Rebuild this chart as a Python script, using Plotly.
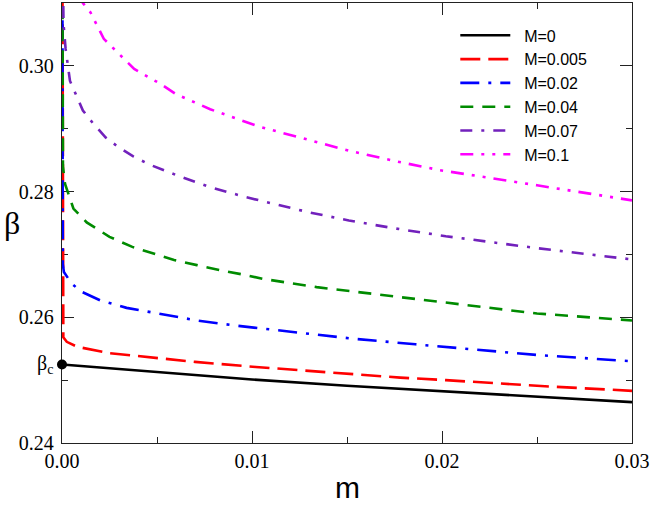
import plotly.graph_objects as go

# ---------------- data ----------------
labels = ["M=0", "M=0.005", "M=0.02", "M=0.04", "M=0.07", "M=0.1"]

m_M0 = [0.0, 0.005, 0.01, 0.015, 0.02, 0.025, 0.03]
b_M0 = [0.2525, 0.2513, 0.2501, 0.2491, 0.2482, 0.2473, 0.2465]

m_M0005 = [0.00002, 0.00004, 0.00007, 0.00025, 0.0008, 0.0025, 0.0045, 0.007,
           0.0102, 0.0143, 0.0178, 0.0202, 0.025, 0.03]
b_M0005 = [0.32, 0.2585, 0.2568, 0.2561, 0.2553, 0.2543, 0.2537, 0.2529,
           0.2521, 0.2512, 0.2504, 0.2500, 0.2491, 0.2483]

m_M002 = [0.00002, 0.00004, 0.0001, 0.0005, 0.001, 0.002, 0.0034, 0.005, 0.0071,
          0.0091, 0.0125, 0.0153, 0.0186, 0.0208, 0.025, 0.03]
b_M002 = [0.32, 0.2685, 0.2672, 0.2654, 0.2641, 0.2627, 0.2615, 0.2606, 0.2595,
          0.2587, 0.2576, 0.2566, 0.2557, 0.2551, 0.2540, 0.2530]

m_M004 = [0.00002, 0.00005, 0.00016, 0.0006, 0.0013, 0.0025, 0.0037, 0.0048, 0.0059,
          0.0071, 0.0083, 0.0097, 0.0106, 0.0134, 0.0169, 0.0200, 0.025, 0.03]
b_M004 = [0.32, 0.2840, 0.2812, 0.2773, 0.2751, 0.2728, 0.2712, 0.2701, 0.2691,
          0.2683, 0.2675, 0.2667, 0.2661, 0.2648, 0.2635, 0.2624, 0.2606, 0.2595]

m_M007 = [0.00002, 0.00008, 0.00019, 0.00042, 0.0011, 0.00165, 0.0023, 0.003, 0.00375,
          0.0046, 0.0062, 0.0078, 0.0097, 0.013, 0.0151, 0.0174, 0.0202, 0.025, 0.03]
b_M007 = [0.32, 0.3067, 0.3027, 0.2976, 0.2929, 0.2908, 0.2886, 0.2870, 0.2856,
          0.2843, 0.2824, 0.2807, 0.2791, 0.2767, 0.2754, 0.2742, 0.2729, 0.2710, 0.2692]

m_M01 = [0.0009, 0.0011, 0.0015, 0.0022, 0.0038, 0.0052, 0.006, 0.0078, 0.0103,
         0.0127, 0.0151, 0.0176, 0.0199, 0.025, 0.03]
b_M01 = [0.3115, 0.3100, 0.3085, 0.3043, 0.2995, 0.2971, 0.2955, 0.2931, 0.2904,
         0.2884, 0.2865, 0.2848, 0.2834, 0.2810, 0.2786]

beta_c = 0.2525
x_ticks = [0.0, 0.01, 0.02, 0.03]
y_ticks = [0.24, 0.26, 0.28, 0.30]

# ---------------- styles ----------------
series = [
    (m_M0, b_M0, "#000000", "solid"),
    (m_M0005, b_M0005, "#ff0000", "20px,8px"),
    (m_M002, b_M002, "#0000ff", "19px,9px,3px,9px"),
    (m_M004, b_M004, "#008b00", "13px,9px"),
    (m_M007, b_M007, "#7221bc", "12px,9px,3px,9px"),
    (m_M01, b_M01, "#ff00ff", "13px,8px,3px,8px,3px,8px"),
]

fig = go.Figure()
for (mx, by, col, dash), name in zip(series, labels):
    fig.add_trace(go.Scatter(x=mx, y=by, mode="lines", name="\u00a0\u00a0" + name,
                             line=dict(color=col, width=2.6, dash=dash)))

fig.add_trace(go.Scatter(x=[0.0], y=[beta_c], mode="markers", showlegend=False,
                         cliponaxis=False,
                         marker=dict(color="black", size=10)))

serif = "Liberation Serif"
sans = "Liberation Sans"

fig.update_layout(
    width=654, height=506,
    margin=dict(l=62, r=22, t=3, b=63),
    paper_bgcolor="white", plot_bgcolor="white",
    font=dict(family=serif, size=20, color="black"),
    showlegend=True,
    legend=dict(x=0.69, y=0.965, xanchor="left", yanchor="top",
                bgcolor="rgba(0,0,0,0)", borderwidth=0,
                font=dict(family=sans, size=16, color="black"),
                itemwidth=50, tracegroupgap=0),
    xaxis=dict(range=[0, 0.03], tickvals=x_ticks, tickformat=".2f",
               ticks="inside", ticklen=12, tickwidth=1.3, tickcolor="#222",
               minor=dict(dtick=0.005, ticks="inside", ticklen=6, tickwidth=1.3, tickcolor="#222"),
               showline=True, linecolor="#222", linewidth=1.3, mirror="ticks",
               showgrid=False, zeroline=False, layer="below traces",
               tickfont=dict(family=serif, size=20, color="black"),
               ticklabelstandoff=0),
    yaxis=dict(range=[0.24, 0.31], tickvals=y_ticks, tickformat=".2f",
               ticks="inside", ticklen=12, tickwidth=1.3, tickcolor="#222",
               minor=dict(dtick=0.01, ticks="inside", ticklen=6, tickwidth=1.3, tickcolor="#222"),
               showline=True, linecolor="#222", linewidth=1.3, mirror="ticks",
               showgrid=False, zeroline=False, layer="below traces",
               tickfont=dict(family=serif, size=20, color="black"),
               ticklabelstandoff=3),
    annotations=[
        dict(text="β", x=-0.087, y=0.5, xref="paper", yref="paper",
             showarrow=False, font=dict(family=serif, size=32, color="black"),
             xanchor="center", yanchor="middle"),
        dict(text="m", x=0.5, y=-0.102, xref="paper", yref="paper",
             showarrow=False, font=dict(family=sans, size=30, color="black"),
             xanchor="center", yanchor="middle"),
        dict(text="β<sub>c</sub>", x=-0.012, y=beta_c, xref="paper", yref="y",
             showarrow=False, font=dict(family=serif, size=20, color="black"),
             xanchor="right", yanchor="middle"),
    ],
)

fig.write_html("out.html",
               config={"displayModeBar": False},
               post_script="document.body.style.margin='0';document.body.style.padding='0';")
